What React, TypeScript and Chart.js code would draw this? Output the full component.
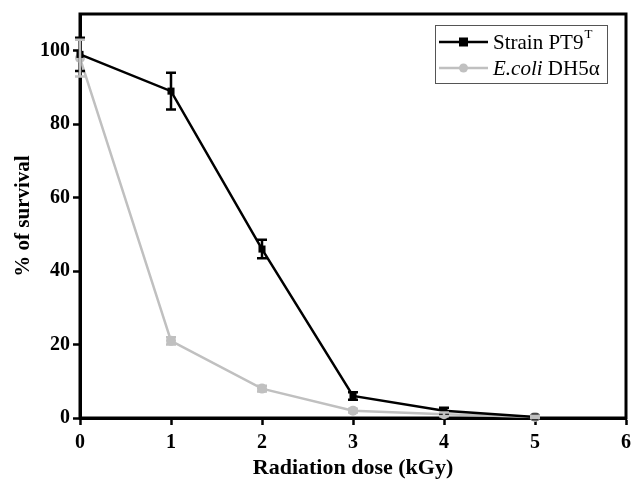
import React, { useEffect, useRef } from "react";
import { Chart, registerables } from "chart.js";

Chart.register(...registerables);

const doses = [0, 1, 2, 3, 4, 5];
const strainValues = [99, 89, 46, 6, 2, 0.3];
const strainErrors = [4.5, 5, 2.5, 1, 0.8, 0.3];
const ecoliValues = [98, 21, 8, 2, 1, 0.3];
const ecoliErrors = [5, 1, 0.8, 0.5, 0.5, 0.3];
const xTicks = [0, 1, 2, 3, 4, 5, 6];
const yTicks = [0, 20, 40, 60, 80, 100];
const seriesNames = ["Strain PT9", "E.coli"];
const seriesNameTails = ["T", " DH5\u03b1"];

const BLACK = "#000000";
const GREY = "#c0c0c0";
const SERIF = "'Liberation Serif', 'Times New Roman', serif";

const errorBarPlugin = {
  id: "errorBars",
  afterDatasetsDraw(chart: any) {
    const ctx = chart.ctx;
    const xs = chart.scales.x;
    const ys = chart.scales.y;
    chart.data.datasets.forEach((ds: any) => {
      if (!ds.errors) return;
      ctx.save();
      ctx.strokeStyle = ds.borderColor;
      ctx.lineWidth = 2.5;
      ds.data.forEach((p: any, i: number) => {
        const e = ds.errors[i];
        if (!e) return;
        const px = xs.getPixelForValue(p.x);
        const yTop = ys.getPixelForValue(p.y + e);
        const yBot = ys.getPixelForValue(Math.max(0, p.y - e));
        ctx.beginPath();
        ctx.moveTo(px, yTop);
        ctx.lineTo(px, yBot);
        ctx.moveTo(px - 5, yTop);
        ctx.lineTo(px + 5, yTop);
        ctx.moveTo(px - 5, yBot);
        ctx.lineTo(px + 5, yBot);
        ctx.stroke();
      });
      ctx.restore();
    });
  },
};

const framePlugin = {
  id: "frame",
  beforeDatasetsDraw(chart: any) {
    const { left, right, top, bottom } = chart.chartArea;
    const ctx = chart.ctx;
    ctx.save();
    ctx.strokeStyle = BLACK;
    ctx.lineWidth = 3;
    ctx.strokeRect(left, top, right - left, bottom - top);
    ctx.restore();
  },
};

const legendPlugin = {
  id: "customLegend",
  afterDraw(chart: any) {
    const ctx = chart.ctx;
    const bx = 435;
    const by = 25;
    const bw = 172;
    const bh = 58;
    ctx.save();
    ctx.fillStyle = "#ffffff";
    ctx.fillRect(bx, by, bw, bh);
    ctx.strokeStyle = "#555555";
    ctx.lineWidth = 1;
    ctx.strokeRect(bx + 0.5, by + 0.5, bw, bh);
    const rows = [42, 68];
    chart.data.datasets.forEach((ds: any, i: number) => {
      const y = rows[i];
      ctx.strokeStyle = ds.borderColor;
      ctx.lineWidth = 2.5;
      ctx.beginPath();
      ctx.moveTo(439, y);
      ctx.lineTo(488, y);
      ctx.stroke();
      ctx.fillStyle = ds.borderColor;
      if (i === 0) {
        ctx.fillRect(459, y - 4.5, 9, 9);
      } else {
        ctx.beginPath();
        ctx.arc(463.5, y, 4.5, 0, Math.PI * 2);
        ctx.fill();
      }
      ctx.fillStyle = BLACK;
      ctx.textBaseline = "middle";
      ctx.textAlign = "left";
      if (i === 0) {
        ctx.font = `21px ${SERIF}`;
        ctx.fillText(seriesNames[0], 493, y + 1);
        const w = ctx.measureText(seriesNames[0]).width;
        ctx.font = `13px ${SERIF}`;
        ctx.fillText(seriesNameTails[0], 493 + w + 1, y - 7);
      } else {
        ctx.font = `italic 21px ${SERIF}`;
        ctx.fillText(seriesNames[1], 493, y + 1);
        const w = ctx.measureText(seriesNames[1]).width;
        ctx.font = `21px ${SERIF}`;
        ctx.fillText(seriesNameTails[1], 493 + w, y + 1);
      }
    });
    ctx.restore();
  },
};

export default function App() {
  const ref = useRef<HTMLCanvasElement | null>(null);

  useEffect(() => {
    if (!ref.current) return;
    const chart = new Chart(ref.current, {
      type: "line",
      data: {
        datasets: [
          {
            label: "Strain PT9T",
            data: doses.map((d, i) => ({ x: d, y: strainValues[i] })),
            errors: strainErrors,
            borderColor: BLACK,
            backgroundColor: BLACK,
            borderWidth: 2.5,
            pointStyle: "rect",
            pointRadius: 5,
            pointBorderWidth: 0,
            tension: 0,
            clip: false,
          } as any,
          {
            label: "E.coli DH5\u03b1",
            data: doses.map((d, i) => ({ x: d, y: ecoliValues[i] })),
            errors: ecoliErrors,
            borderColor: GREY,
            backgroundColor: GREY,
            borderWidth: 2.5,
            pointStyle: "circle",
            pointRadius: 5,
            pointBorderWidth: 0,
            tension: 0,
            clip: false,
          } as any,
        ],
      },
      options: {
        responsive: false,
        animation: false,
        events: [],
        layout: { padding: { left: 0, top: 14, right: 7, bottom: 0 } },
        plugins: {
          legend: { display: false },
          tooltip: { enabled: false },
        },
        scales: {
          x: {
            type: "linear",
            min: 0,
            max: 6,
            afterBuildTicks: (s: any) => {
              s.ticks = xTicks.map((v) => ({ value: v }));
            },
            afterFit: (s: any) => {
              s.height = 64;
              s.paddingLeft = 0;
              s.paddingRight = 0;
            },
            grid: {
              display: true,
              drawOnChartArea: false,
              drawTicks: true,
              tickLength: 7,
              tickWidth: 2.5,
              tickColor: BLACK,
              color: BLACK,
            },
            border: { display: true, color: BLACK, width: 3 },
            ticks: {
              color: BLACK,
              padding: 6,
              font: { family: SERIF, size: 20, weight: "bold" },
            },
            title: {
              display: true,
              text: "Radiation dose (kGy)",
              color: BLACK,
              font: { family: SERIF, size: 22, weight: "bold" },
              padding: { top: 0, bottom: 0 },
            },
          },
          y: {
            type: "linear",
            min: 0,
            max: 110,
            afterBuildTicks: (s: any) => {
              s.ticks = yTicks.map((v) => ({ value: v }));
            },
            afterFit: (s: any) => {
              s.width = 80;
              s.paddingTop = 0;
              s.paddingBottom = 0;
            },
            grid: {
              display: true,
              drawOnChartArea: false,
              drawTicks: true,
              tickLength: 7,
              tickWidth: 2.5,
              tickColor: BLACK,
              color: BLACK,
            },
            border: { display: true, color: BLACK, width: 3 },
            ticks: {
              color: BLACK,
              padding: 3,
              font: { family: SERIF, size: 20, weight: "bold" },
            },
            title: {
              display: true,
              text: "% of survival",
              color: BLACK,
              font: { family: SERIF, size: 21, weight: "bold" },
              padding: { top: 11, bottom: 0 },
            },
          },
        },
      } as any,
      plugins: [framePlugin, errorBarPlugin, legendPlugin],
    });
    return () => chart.destroy();
  }, []);

  return (
    <div style={{ position: "fixed", left: 0, top: 0, width: 633, height: 482, background: "#fff" }}>
      <canvas ref={ref} width={633} height={482} style={{ width: 633, height: 482 }} />
    </div>
  );
}
